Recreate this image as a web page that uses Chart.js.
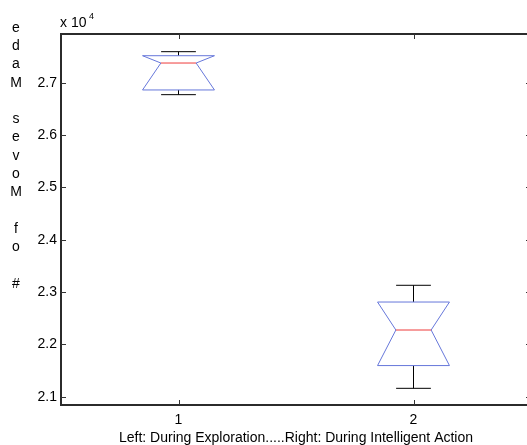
<!DOCTYPE html>
<html>
<head>
<meta charset="utf-8">
<script src="https://cdn.jsdelivr.net/npm/chart.js@4"></script>
<style>
  html, body { margin: 0; padding: 0; background: #fff; overflow: hidden; }
  #wrap { width: 533px; height: 445px; }
</style>
</head>
<body>
<div id="wrap"><canvas id="myChart"></canvas></div>
<script>
// box plot values (# of moves made)
const categories = [1, 2];
const whiskerLow = [26775, 21160];
const q1 = [26865, 21595];
const median = [27380, 22275];
const q3 = [27520, 22810];
const whiskerHigh = [27597, 23130];

const yTicks = [21000, 22000, 23000, 24000, 25000, 26000, 27000];
const yTickLabels = ["2.1", "2.2", "2.3", "2.4", "2.5", "2.6", "2.7"];
const xTickLabels = ["1", "2"];

const yTitle = "# of Moves Made";
const xTitle = "Left: During Exploration.....Right: During Intelligent Action";

const FONT = "Liberation Sans, Arial, Helvetica, sans-serif";
const FS = 14;

const boxPlot = {
  id: "boxPlot",
  afterDraw(chart) {
    const { ctx, chartArea: a, scales: { x, y } } = chart;
    ctx.save();

    // frame (left, bottom, top)
    ctx.strokeStyle = "#2b2b2b";
    ctx.lineWidth = 2;
    ctx.beginPath();
    ctx.moveTo(a.right, a.top);
    ctx.lineTo(a.left, a.top);
    ctx.lineTo(a.left, a.bottom);
    ctx.lineTo(a.right, a.bottom);
    ctx.stroke();

    // inward ticks on all sides
    ctx.lineWidth = 1;
    ctx.strokeStyle = "#333";
    ctx.beginPath();
    yTicks.forEach(v => {
      const py = Math.round(y.getPixelForValue(v)) + 0.5;
      ctx.moveTo(a.left, py); ctx.lineTo(a.left + 5, py);
      ctx.moveTo(a.right, py); ctx.lineTo(a.right - 5, py);
    });
    categories.forEach(v => {
      const px = Math.round(x.getPixelForValue(v)) + 0.5;
      ctx.moveTo(px, a.bottom); ctx.lineTo(px, a.bottom - 5);
      ctx.moveTo(px, a.top); ctx.lineTo(px, a.top + 5);
    });
    ctx.stroke();

    // boxes
    const half = 0.153, notch = 0.075, cap = 0.074;
    categories.forEach((c, i) => {
      const cx = x.getPixelForValue(c);
      const l = x.getPixelForValue(c - half), r = x.getPixelForValue(c + half);
      const nl = x.getPixelForValue(c - notch), nr = x.getPixelForValue(c + notch);
      const cl = x.getPixelForValue(c - cap), cr = x.getPixelForValue(c + cap);
      const yLo = y.getPixelForValue(whiskerLow[i]);
      const yQ1 = y.getPixelForValue(q1[i]);
      const yMed = y.getPixelForValue(median[i]);
      const yQ3 = y.getPixelForValue(q3[i]);
      const yHi = y.getPixelForValue(whiskerHigh[i]);

      // whiskers
      ctx.strokeStyle = "#000";
      ctx.lineWidth = 1;
      ctx.beginPath();
      ctx.moveTo(cx, yQ3); ctx.lineTo(cx, yHi);
      ctx.moveTo(cx, yQ1); ctx.lineTo(cx, yLo);
      ctx.moveTo(cl, yHi); ctx.lineTo(cr, yHi);
      ctx.moveTo(cl, yLo); ctx.lineTo(cr, yLo);
      ctx.stroke();

      // notched box
      ctx.strokeStyle = "#6677da";
      ctx.lineWidth = 1;
      ctx.beginPath();
      ctx.moveTo(l, yQ3);
      ctx.lineTo(r, yQ3);
      ctx.lineTo(nr, yMed);
      ctx.lineTo(r, yQ1);
      ctx.lineTo(l, yQ1);
      ctx.lineTo(nl, yMed);
      ctx.closePath();
      ctx.stroke();

      // median
      ctx.strokeStyle = "#ee3a3a";
      ctx.beginPath();
      ctx.moveTo(nl, yMed); ctx.lineTo(nr, yMed);
      ctx.stroke();
    });

    // exponent label
    ctx.fillStyle = "#000";
    ctx.textBaseline = "alphabetic";
    ctx.textAlign = "left";
    ctx.font = FS + "px " + FONT;
    ctx.fillText("x 10", a.left - 1, a.top - 7);
    ctx.font = "9px " + FONT;
    ctx.fillText("4", a.left + 28, a.top - 15);

    // stacked y title, read bottom to top
    ctx.font = FS + "px " + FONT;
    ctx.textAlign = "center";
    ctx.textBaseline = "middle";
    const chars = yTitle.split("");
    const step = 18.3;
    chars.forEach((ch, k) => {
      ctx.fillText(ch, 16, 284 - k * step);
    });

    ctx.restore();
  }
};

new Chart(document.getElementById("myChart"), {
  type: "scatter",
  data: {
    datasets: [{ data: [], showLine: false }]
  },
  options: {
    responsive: true,
    maintainAspectRatio: false,
    animation: false,
    events: [],
    layout: { padding: { top: 34, right: 2, bottom: 0, left: 0 } },
    plugins: {
      legend: { display: false },
      title: { display: false },
      tooltip: { enabled: false }
    },
    scales: {
      x: {
        type: "linear",
        min: 0.5,
        max: 2.5,
        afterBuildTicks: axis => { axis.ticks = categories.map(v => ({ value: v })); },
        afterFit: axis => { axis.height = 40; },
        grid: { display: false, drawTicks: false },
        border: { display: false },
        ticks: {
          padding: 7,
          color: "#000",
          font: { family: FONT, size: FS },
          callback: (v) => xTickLabels[categories.indexOf(v)]
        },
        title: {
          display: true,
          text: xTitle,
          color: "#000",
          font: { family: FONT, size: FS },
          padding: { top: 0, bottom: -2 }
        }
      },
      y: {
        type: "linear",
        min: 20841,
        max: 27935,
        afterBuildTicks: axis => { axis.ticks = yTicks.map(v => ({ value: v })); },
        afterFit: axis => { axis.width = 61; },
        grid: { display: false, drawTicks: false },
        border: { display: false },
        ticks: {
          padding: 4,
          color: "#000",
          font: { family: FONT, size: FS },
          callback: (v) => yTickLabels[yTicks.indexOf(v)]
        }
      }
    }
  },
  plugins: [boxPlot]
});
</script>
</body>
</html>
